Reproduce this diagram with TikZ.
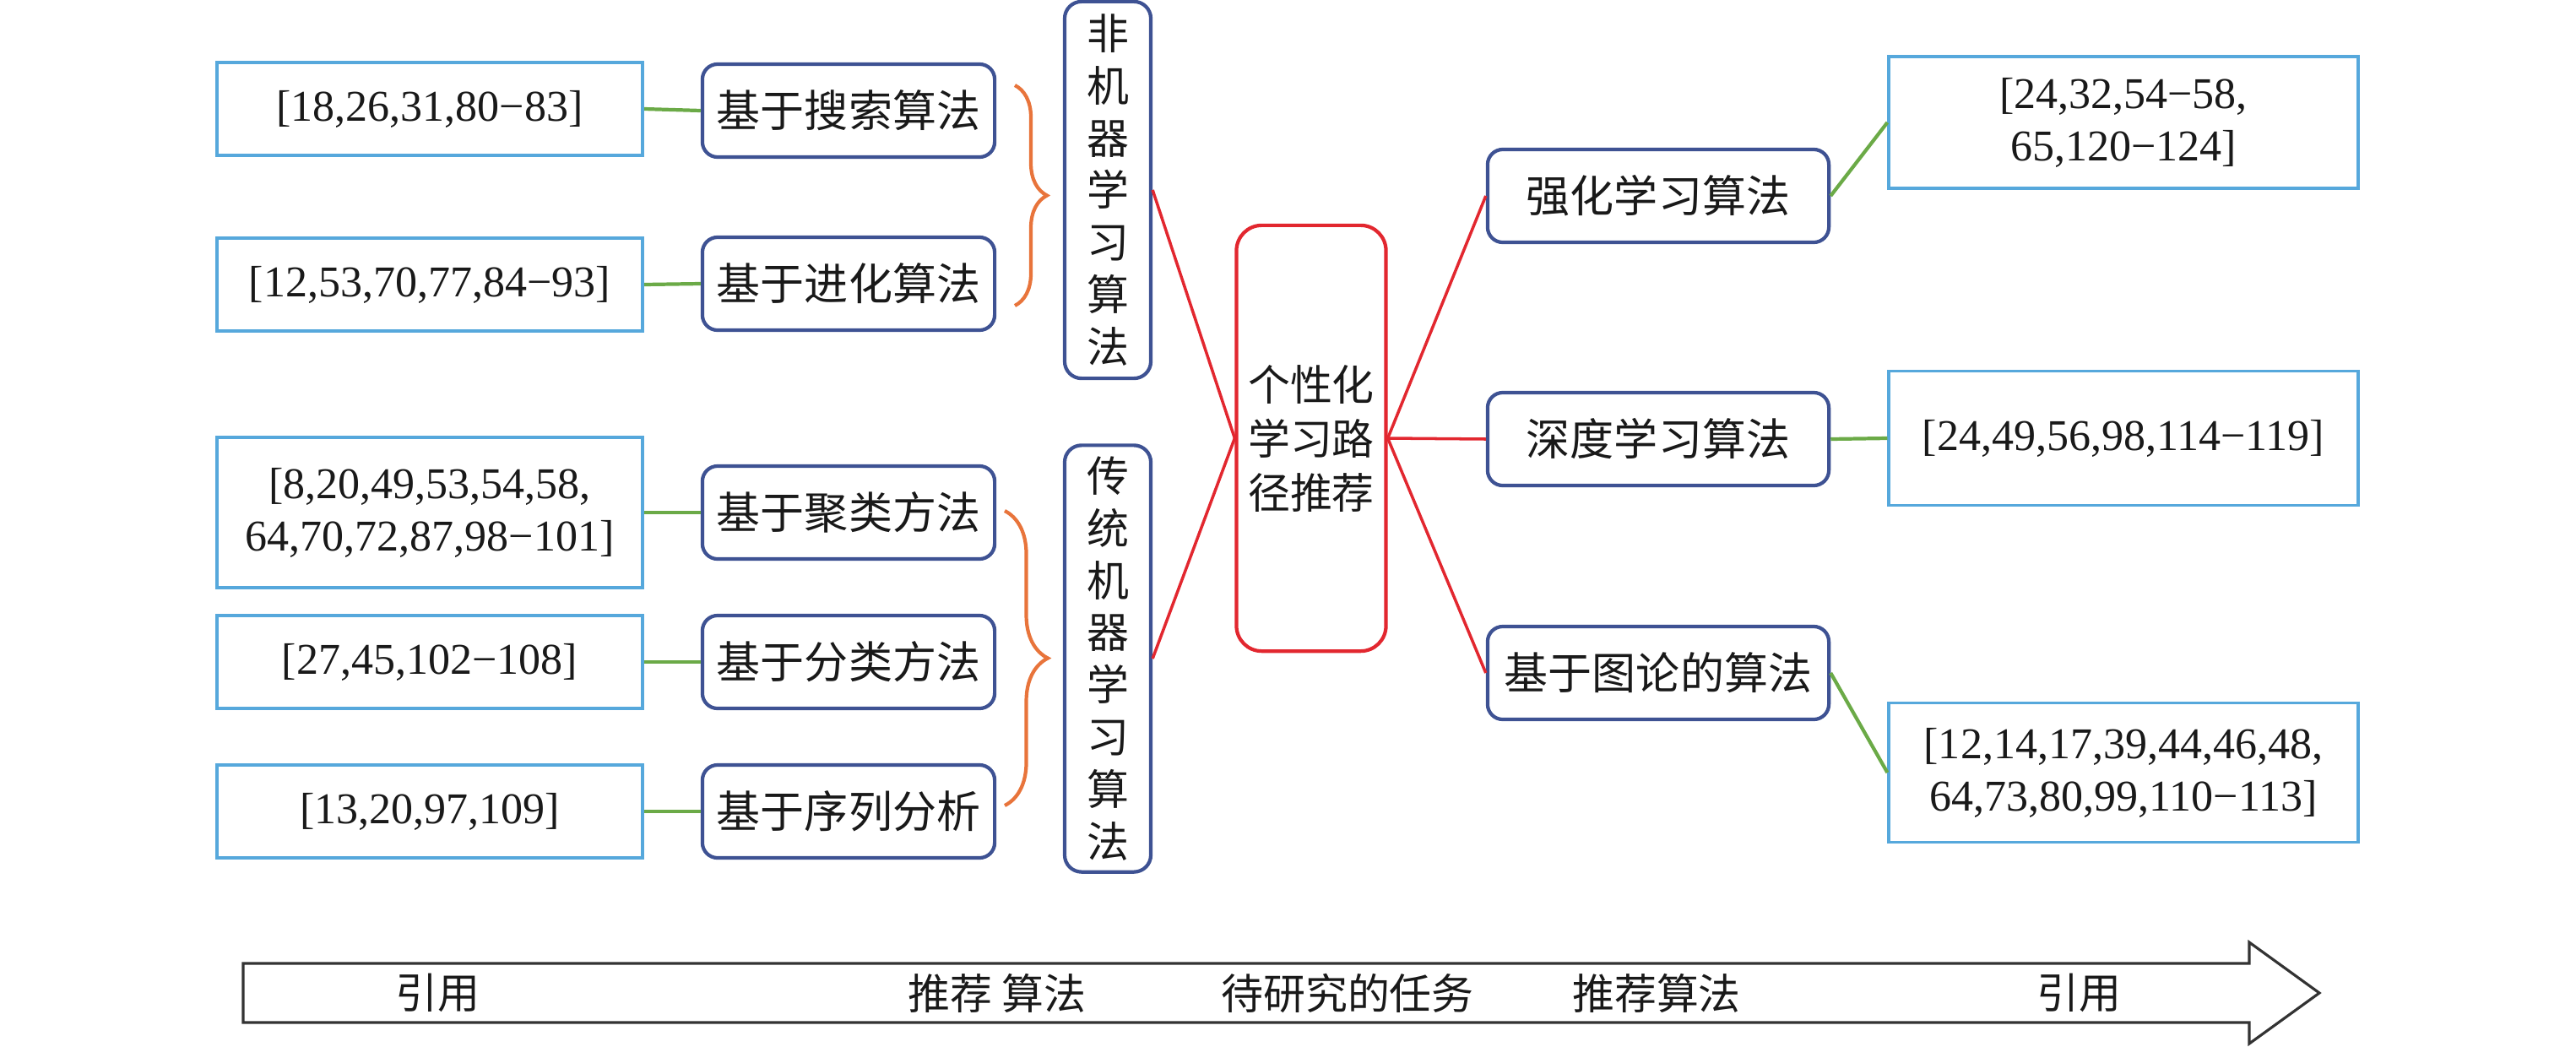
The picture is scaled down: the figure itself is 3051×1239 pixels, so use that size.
\documentclass[tikz,border=0pt]{standalone}
\usepackage{fontspec}
\setmainfont{Liberation Serif}
\newfontfamily\cjk{Noto Sans CJK SC}
\usetikzlibrary{decorations.pathreplacing}
\definecolor{refblue}{RGB}{86,168,220}
\definecolor{algblue}{RGB}{62,82,147}
\definecolor{topicred}{RGB}{226,39,47}
\definecolor{linkgreen}{RGB}{107,170,71}
\definecolor{braceorange}{RGB}{232,116,59}
\definecolor{arrowgray}{RGB}{51,51,51}

\begin{document}
\begin{tikzpicture}[x=0.01cm,y=-0.01cm,
  every node/.style={text=black!90,inner sep=0pt,align=center},
  refbox/.style={draw=refblue,line width=1.1pt,minimum width=5.04cm,
    font=\fontsize{14.8pt}{17.6pt}\selectfont},
  algbox/.style={draw=algblue,line width=1.2pt,rounded corners=0.18cm,
    minimum width=3.46cm,minimum height=1.1cm,font=\cjk\fontsize{14.8pt}{17.6pt}\selectfont},
  catbox/.style={draw=algblue,line width=1.2pt,rounded corners=0.2cm,
    minimum width=1.02cm,font=\cjk\fontsize{14.2pt}{17.6pt}\selectfont},
  topicbox/.style={draw=topicred,line width=1.2pt,rounded corners=0.3cm,
    minimum width=1.77cm,minimum height=5.04cm,font=\cjk\fontsize{14.2pt}{18.2pt}\selectfont},
  steplabel/.style={font=\cjk\fontsize{14.2pt}{17pt}\selectfont},
  redlink/.style={topicred,line width=1pt},
  greenlink/.style={linkgreen,line width=1.2pt},
  orangebrace/.style={braceorange,line width=1.2pt,decorate}]
  \useasboundingbox (0,0) rectangle (3051,1239);

  % references on the left
  \node (r1) [refbox,minimum height=1.1cm] at (509,129) {[18,26,31,80−83]};
  \node (r2) [refbox,minimum height=1.1cm] at (509,337) {[12,53,70,77,84−93]};
  \node (r3) [refbox,minimum height=1.78cm] at (509,607) {[8,20,49,53,54,58,\\64,70,72,87,98−101]};
  \node (r4) [refbox,minimum height=1.1cm] at (509,784) {[27,45,102−108]};
  \node (r5) [refbox,minimum height=1.1cm] at (509,961) {[13,20,97,109]};

  % methods
  \node (m1) [algbox] at (1005,131) {基于搜索算法};
  \node (m2) [algbox] at (1005,336) {基于进化算法};
  \node (m3) [algbox] at (1005,607) {基于聚类方法};
  \node (m4) [algbox] at (1005,784) {基于分类方法};
  \node (m5) [algbox] at (1005,961) {基于序列分析};

  \node (c1) [catbox,minimum height=4.46cm] at (1312,225) {非\\机\\器\\学\\习\\算\\法};
  \node (c2) [catbox,minimum height=5.05cm] at (1312,780) {传\\统\\机\\器\\学\\习\\算\\法};

  \node (cc) [topicbox] at (1553,519) {个性化\\学习路\\径推荐};

  % right side
  \node (a1) [algbox,minimum width=4.04cm] at (1964,232) {强化学习算法};
  \node (a2) [algbox,minimum width=4.04cm] at (1964,520) {深度学习算法};
  \node (a3) [algbox,minimum width=4.04cm] at (1964,797) {基于图论的算法};

  \node (x1) [refbox,minimum width=5.55cm,minimum height=1.56cm] at (2515,145) {[24,32,54−58,\\65,120−124]};
  \node (x2) [refbox,minimum width=5.55cm,minimum height=1.59cm] at (2515,519) {[24,49,56,98,114−119]};
  \node (x3) [refbox,minimum width=5.55cm,minimum height=1.65cm] at (2515,915) {[12,14,17,39,44,46,48,\\64,73,80,99,110−113]};

  \foreach \i in {1,...,5}
    \draw[greenlink] (r\i.east) -- (m\i.west);

  \coordinate (b1t) at (1202,101);
  \coordinate (b1b) at (1202,362);
  \coordinate (b2t) at (1190,605);
  \coordinate (b2b) at (1190,954);
  \draw[orangebrace,decoration={brace,amplitude=0.38cm}] (b1t) -- (b1b);
  \draw[orangebrace,decoration={brace,amplitude=0.51cm}] (b2t) -- (b2b);

  \draw[redlink] (c1.east) -- (cc.west);
  \draw[redlink] (c2.east) -- (cc.west);
  \foreach \i in {1,2,3}
    \draw[redlink] (cc.east) -- (a\i.west);
  \foreach \i in {1,2,3}
    \draw[greenlink] (a\i.east) -- (x\i.west);

  % timeline arrow
  \draw[arrowgray,line width=0.9pt] (288,1141) -- (2664,1141) -- (2664,1116)
    -- (2747,1176) -- (2664,1236) -- (2664,1211) -- (288,1211) -- cycle;
  \node (s1) [steplabel] at (518,1176) {引用};
  \node (s2) [steplabel] at (1181,1176) {推荐\hspace{0.12cm}算法};
  \node (s3) [steplabel] at (1596,1176) {待研究的任务};
  \node (s4) [steplabel] at (1962,1176) {推荐算法};
  \node (s5) [steplabel] at (2462,1176) {引用};
\end{tikzpicture}
\end{document}
